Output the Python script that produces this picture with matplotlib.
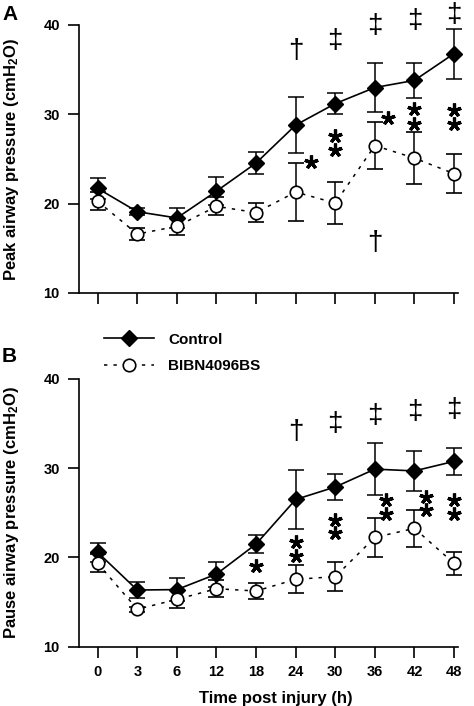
import numpy as np
import matplotlib
matplotlib.use("Agg")
import matplotlib.pyplot as plt
from matplotlib.lines import Line2D

plt.rcParams['font.family'] = ['Liberation Sans', 'DejaVu Sans']
plt.rcParams['font.weight'] = 'bold'
plt.rcParams['mathtext.fontset'] = 'custom'
plt.rcParams['mathtext.rm'] = 'Liberation Sans:bold'
plt.rcParams['mathtext.bf'] = 'Liberation Sans:bold'
plt.rcParams['mathtext.default'] = 'bf'

times = ['0', '3', '6', '12', '18', '24', '30', '36', '42', '48']

# panel A: peak airway pressure
peak_ctrl = [21.7, 19.1, 18.4, 21.4, 24.55, 28.8, 31.2, 33.0, 33.8, 36.8]
peak_ctrl_sem = [1.2, 0.4, 1.1, 1.6, 1.25, 3.15, 1.2, 2.7, 2.0, 2.8]
peak_bibn = [20.26, 16.6, 17.46, 19.7, 19.0, 21.3, 20.07, 26.5, 25.1, 23.36]
peak_bibn_sem = [1.0, 0.7, 0.95, 1.0, 1.05, 3.2, 2.3, 2.6, 2.95, 2.15]

# panel B: pause airway pressure
pause_ctrl = [20.57, 16.35, 16.4, 18.14, 21.5, 26.5, 27.9, 29.9, 29.7, 30.77]
pause_ctrl_sem = [1.1, 0.9, 1.3, 1.4, 1.0, 3.3, 1.5, 2.9, 2.2, 1.5]
pause_bibn = [19.34, 14.2, 15.3, 16.5, 16.24, 17.55, 17.85, 22.25, 23.26, 19.34]
pause_bibn_sem = [1.0, 0.3, 1.0, 0.95, 0.95, 1.55, 1.6, 2.15, 2.05, 1.3]

# significance marks: (x position index, y value, symbol)
peak_marks = [(5, 37.05, '†'), (6, 38.2, '‡'), (7, 39.85, '‡'), (8, 40.4, '‡'),
              (9, 41.15, '‡'), (7, 15.6, '†')]
peak_stars_x = [5.39, 6, 6, 7.32, 8, 8, 9, 9]
peak_stars_y = [24.7, 27.6, 26.05, 29.6, 30.6, 28.95, 30.5, 28.9]

pause_marks = [(5, 34.1, '†'), (6, 35.0, '‡'), (7, 35.8, '‡'), (8, 36.3, '‡'),
               (9, 36.5, '‡')]
pause_stars_x = [4, 5, 5, 6, 6, 7.29, 7.29, 8.3, 8.3, 9, 9]
pause_stars_y = [19.0, 21.77, 20.16, 24.2, 22.7, 26.4, 24.9, 26.8, 25.3, 26.4, 24.9]

W, H = 474, 706
fig = plt.figure(figsize=(W / 100, H / 100), dpi=100)
axA = fig.add_axes([79.3 / W, 1 - 293 / H, 378.7 / W, 268 / H])
axB = fig.add_axes([79.3 / W, 1 - 646.7 / H, 378.7 / W, 267.7 / H])

x = np.arange(len(times))


def draw(ax, ctrl, ctrl_sem, bibn, bibn_sem, marks, sx, sy, ylabel):
    ax.errorbar(x, ctrl, yerr=ctrl_sem, color='black', lw=1.2, elinewidth=1.1,
                capsize=5.5, capthick=1.1, marker='D', ms=8.5, mfc='black',
                mec='black', zorder=3, clip_on=False, label='Control')
    ax.errorbar(x, bibn, yerr=bibn_sem, color='black', lw=1.1, ls=(0, (2.2, 4)),
                elinewidth=1.1, capsize=5.5, capthick=1.1, marker='o', ms=9,
                mfc='white', mec='black', mew=1.2, zorder=4, clip_on=False,
                label='BIBN4096BS')
    for xi, yi, s in marks:
        ax.text(xi, yi, s, ha='center', va='center', fontsize=20,
                fontweight='normal', clip_on=False)
    ax.plot(sx, sy, ls='none', marker=(5, 2, 0), ms=10, mew=2.3, color='black',
            clip_on=False, zorder=5)
    ax.set_xlim(-0.465, 9.1)
    ax.set_ylim(10, 40)
    ax.set_yticks([10, 20, 30, 40])
    ax.set_xticks(x)
    for s in ['top', 'right']:
        ax.spines[s].set_visible(False)
    for s in ['left', 'bottom']:
        ax.spines[s].set_linewidth(1.2)
    ax.tick_params(direction='out', length=8, width=1.2, labelsize=10.5, pad=6)
    ax.set_ylabel(ylabel, fontsize=12, fontweight='bold')
    ax.yaxis.set_label_coords(-0.155, 0.5)


draw(axA, peak_ctrl, peak_ctrl_sem, peak_bibn, peak_bibn_sem, peak_marks,
     peak_stars_x, peak_stars_y, 'Peak airway pressure (cmH$_2$O)')
draw(axB, pause_ctrl, pause_ctrl_sem, pause_bibn, pause_bibn_sem, pause_marks,
     pause_stars_x, pause_stars_y, 'Pause airway pressure (cmH$_2$O)')

axA.set_xticklabels([])
axB.set_xticklabels(times)
axB.tick_params(axis='x', pad=5)
axB.set_xlabel('Time post injury (h)', fontsize=12, fontweight='bold')
axB.xaxis.set_label_coords(0.519, -0.165)

handles = [
    Line2D([], [], color='black', lw=1.2, marker='D', ms=8.5, mfc='black'),
    Line2D([], [], color='black', lw=1.1, ls=(0, (2.2, 4)), marker='o', ms=9,
           mfc='white', mew=1.2),
]
fig.legend(handles, ['Control', 'BIBN4096BS'], loc='center left',
           bbox_to_anchor=(104 / W, 1 - 353 / H), frameon=False, fontsize=11,
           handlelength=3.3, handletextpad=0.9, labelspacing=0.85, borderpad=0,
           borderaxespad=0)

fig.text(2 / W, 1 - 15 / H, 'A', fontsize=15, fontweight='bold', va='center')
fig.text(2 / W, 1 - 357 / H, 'B', fontsize=15, fontweight='bold', va='center')

fig.savefig('out.png', dpi=100)
